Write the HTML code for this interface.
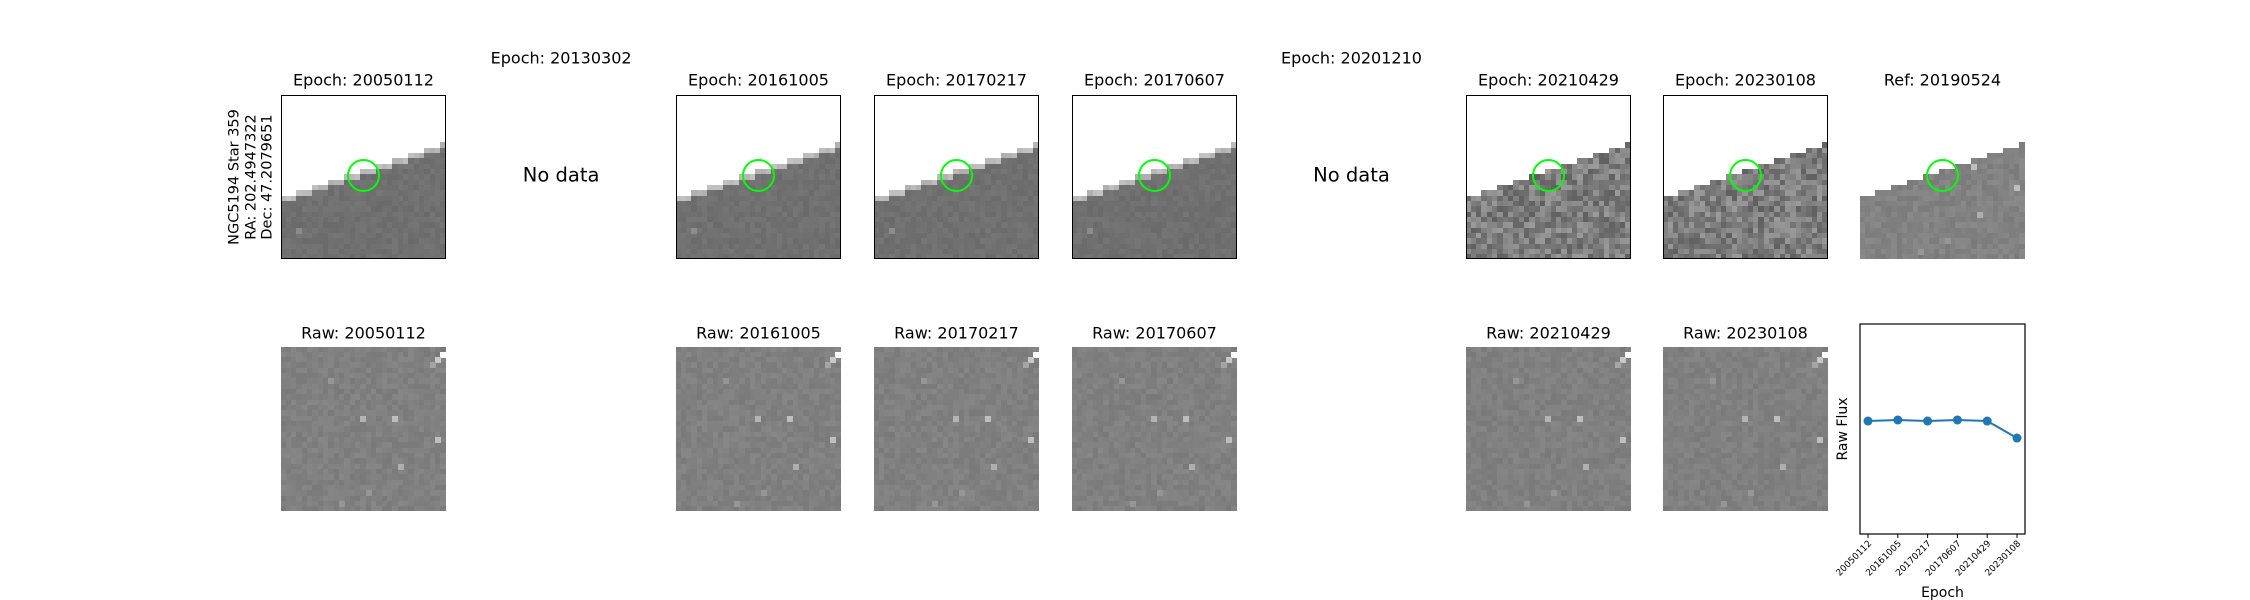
<!DOCTYPE html>
<html><head><meta charset="utf-8">
<style>
html,body{margin:0;padding:0;background:#fff;}
#root{position:relative;width:2250px;height:600px;overflow:hidden;font-family:"DejaVu Sans","Liberation Sans",sans-serif;}
canvas{position:absolute;image-rendering:pixelated;}
.t{position:absolute;font-size:16px;color:#000;white-space:nowrap;transform:translate(-50%,-50%);}
.frame{position:absolute;border:1.3px solid #000;box-sizing:border-box;}
</style></head>
<body>
<div id="root">
<div class="t" style="left:251px;top:177px;transform:translate(-50%,-50%) rotate(-90deg);font-size:14.5px;line-height:16.5px;text-align:center;">NGC5194 Star 359<br>RA: 202.4947322<br>Dec: 47.2079651</div>
<svg id="chart" width="2250" height="600" style="position:absolute;left:0;top:0;pointer-events:none"></svg>
</div>
<script>
// ---- chart data ----
var epochs=["20050112","20161005","20170217","20170607","20210429","20230108"];
var rawFlux=[0.538,0.543,0.538,0.543,0.538,0.457];
var yDomain=[0,1];

var root=document.getElementById('root');
var colX=[281,478.6,676,874,1072,1269,1466,1663,1860];
var W=165,H=164,TOP=95,BTOP=347;
var cols=[
 {title:"Epoch: 20050112",type:"warp",raw:true},
 {title:"Epoch: 20130302",type:"none"},
 {title:"Epoch: 20161005",type:"warp",raw:true},
 {title:"Epoch: 20170217",type:"warp",raw:true},
 {title:"Epoch: 20170607",type:"warp",raw:true},
 {title:"Epoch: 20201210",type:"none"},
 {title:"Epoch: 20210429",type:"noisy",raw:true},
 {title:"Epoch: 20230108",type:"noisy",raw:true},
 {title:"Ref: 20190524",type:"ref"}
];
var seed=12345;
function rnd(){seed=(seed*1103515245+12345)%2147483648;return seed/2147483648;}
var N=31;
var stars=[[30,1,255],[29,2,200],[15,13,180],[21,13,190],[29,17,190],[22,22,175],[28,3,165],[9,6,150],[16,27,150],[11,29,150]];
function drawImg(cv,kind){
  var ctx=cv.getContext('2d');var c=W/N;
  for(var j=0;j<N;j++)for(var i=0;i<N;i++){
    var v;
    var bnd=Math.round((0.62-0.32*(i/(N-1)))*N);
    if(kind=="raw"){v=128+(rnd()-0.5)*14;}
    else if(kind=="noisy"){v=125+(rnd()-0.5)*60;}
    else if(kind=="ref"){v=130+(rnd()-0.5)*16;}
    else {v=112+(rnd()-0.5)*12;}
    if(kind!="raw"){
      if(j<bnd){v=255;}
      else if(j==bnd && kind=="warp"){v=185+(rnd()-0.5)*20;}
    }
    v=Math.max(0,Math.min(255,Math.round(v)));
    ctx.fillStyle='rgb('+v+','+v+','+v+')';
    ctx.fillRect(Math.floor(i*c),Math.floor(j*c),Math.ceil(c)+1,Math.ceil(c)+1);
  }
  if(kind=="raw"||kind=="ref"){
    stars.forEach(function(s){
      var bnd=Math.round((0.62-0.32*(s[0]/(N-1)))*N);
      if(kind=="ref"&&s[1]<=bnd)return;
      ctx.fillStyle='rgb('+s[2]+','+s[2]+','+s[2]+')';
      ctx.fillRect(Math.floor(s[0]*c),Math.floor(s[1]*c),Math.ceil(c),Math.ceil(c));
    });
  }
  if(kind=="warp"){ctx.fillStyle='rgb(140,140,140)';ctx.fillRect(Math.floor(3*c),Math.floor(25*c),Math.ceil(c),Math.ceil(c));}
}
function mk(tag,cls){var e=document.createElement(tag);if(cls)e.className=cls;root.appendChild(e);return e;}
cols.forEach(function(col,k){
  var x=colX[k];
  if(col.type=="none"){
    var t=mk('div','t');t.textContent=col.title;t.style.left=(x+W/2)+'px';t.style.top='58px';
    
    
    var n=mk('div','t');n.textContent="No data";n.style.fontSize='19.5px';n.style.left=(x+W/2)+'px';n.style.top='175px';
    
    
    return;
  }
  var t=mk('div','t');t.textContent=col.title;t.style.left=(x+W/2)+'px';t.style.top='80px';
  
  
  var cv=mk('canvas');cv.width=W;cv.height=H;cv.style.left=x+'px';cv.style.top=TOP+'px';
  
  
  drawImg(cv,col.type);
  if(col.type!="ref"){
    var f=mk('div','frame');f.style.left=x+'px';f.style.top=TOP+'px';f.style.width=W+'px';f.style.height=H+'px';
    
    
  }
  var circ=mk('div');circ.style.cssText='position:absolute;width:33px;height:33px;border:2px solid #00ff00;border-radius:50%;box-sizing:border-box;left:'+(x+W/2-16.5)+'px;top:'+(TOP+0.49*H-16.5)+'px';
  
  
  if(col.raw){
    var rt=mk('div','t');rt.textContent="Raw: "+col.title.split(': ')[1];rt.style.left=(x+W/2)+'px';rt.style.top='333px';
    
    
    var rc=mk('canvas');rc.width=W;rc.height=H;rc.style.left=x+'px';rc.style.top=BTOP+'px';
    
    
    drawImg(rc,"raw");
  }
});
// ---- chart ----
var svg=document.getElementById('chart');var NS='http://www.w3.org/2000/svg';
var px0=1860,px1=2025,py0=324,py1=534;
function xs(i){return px0+8+i*(px1-px0-16)/(epochs.length-1);}
function ys(v){return py1-(v-yDomain[0])/(yDomain[1]-yDomain[0])*(py1-py0);}
function el(tag,attrs){var e=document.createElementNS(NS,tag);for(var a in attrs)e.setAttribute(a,attrs[a]);svg.appendChild(e);return e;}
var fr=el('rect',{x:px0,y:py0,width:px1-px0,height:py1-py0,fill:'none',stroke:'#000','stroke-width':1.2});


var pts=rawFlux.map(function(v,i){return xs(i)+','+ys(v);}).join(' ');
var ln=el('polyline',{points:pts,fill:'none',stroke:'#1f77b4','stroke-width':2});


rawFlux.forEach(function(v,i){
  var c=el('circle',{cx:xs(i),cy:ys(v),r:4.5,fill:'#1f77b4'});
  
  
  var tk=el('line',{x1:xs(i),x2:xs(i),y1:py1,y2:py1+4,stroke:'#000','stroke-width':1});
  
  
  var tx=el('text',{x:xs(i)+4,y:py1+10,'font-size':'9','text-anchor':'end','font-family':'DejaVu Sans, Liberation Sans, sans-serif',transform:'rotate(-45 '+(xs(i)+4)+' '+(py1+10)+')'});
  tx.textContent=epochs[i];
  
  
});
var xl=el('text',{x:(px0+px1)/2,y:597,'font-size':'14','text-anchor':'middle','font-family':'DejaVu Sans, Liberation Sans, sans-serif'});
xl.textContent='Epoch';


var yl=el('text',{x:1847,y:429,'font-size':'14','text-anchor':'middle','font-family':'DejaVu Sans, Liberation Sans, sans-serif',transform:'rotate(-90 1847 429)'});
yl.textContent='Raw Flux';


</script>
</body></html>
